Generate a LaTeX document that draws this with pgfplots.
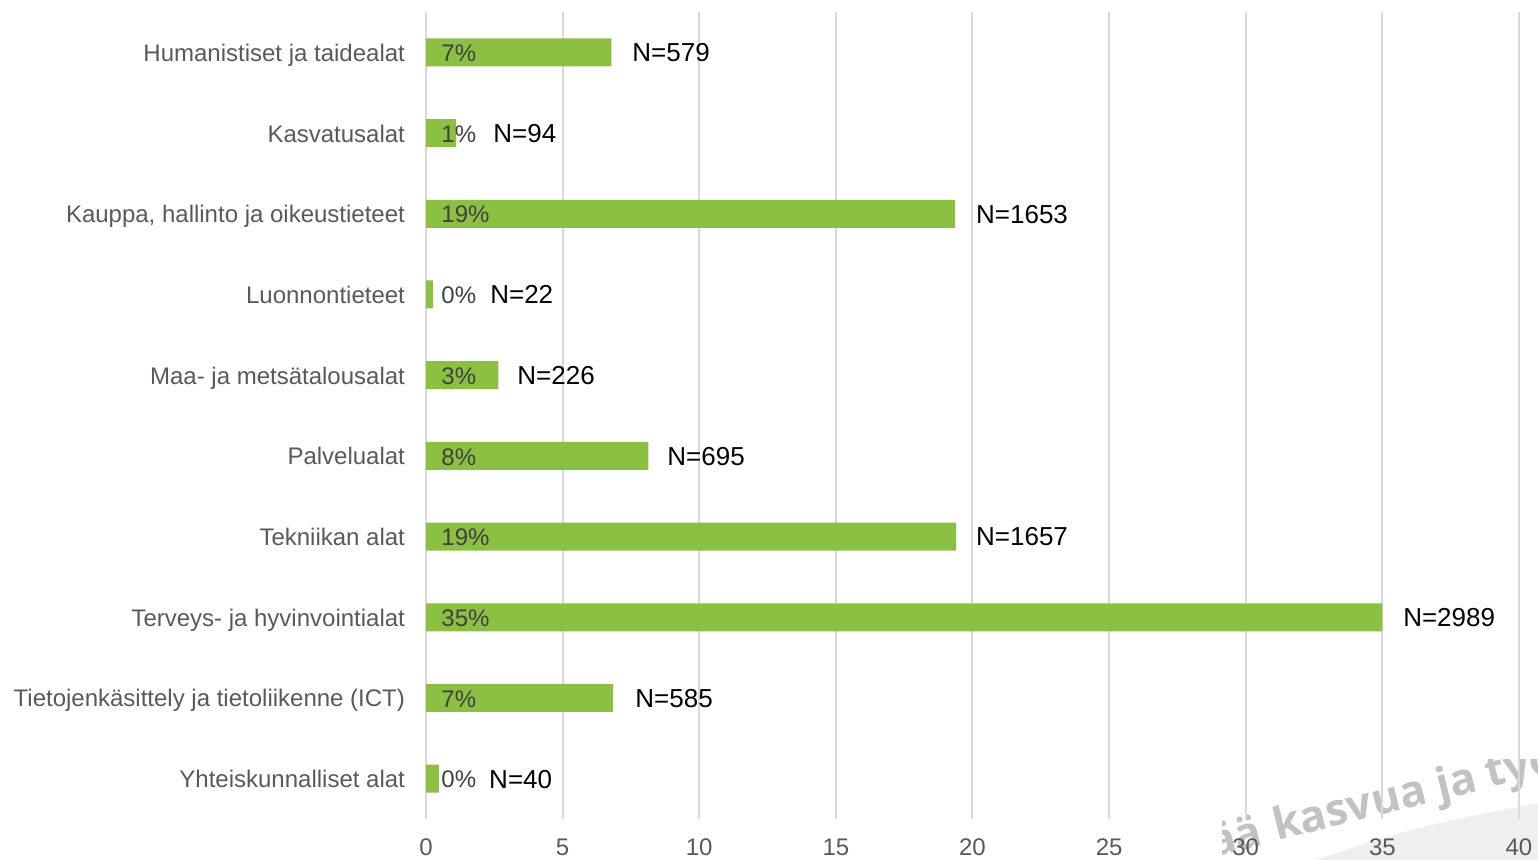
\documentclass[border=0pt]{standalone}
\usepackage{fontspec}
\setmainfont{Liberation Sans}
\newfontfamily\wmfont{Open Sans}
\usepackage{pgfplots}
\pgfplotsset{compat=1.18}
\usepackage{pgfplotstable}

\definecolor{bargreen}{HTML}{8BC043}
\definecolor{gridgray}{HTML}{D9D9D9}
\definecolor{labgray}{HTML}{595959}
\definecolor{pctgray}{HTML}{404040}
\definecolor{wmgray}{HTML}{C2C2C2}
\definecolor{wedgegray}{HTML}{EFEFEF}

% y: row from top, share: % of all (N total 8540)
\pgfplotstableread{
y share
0 6.78
1 1.10
2 19.36
3 0.26
4 2.65
5 8.14
6 19.40
7 35.00
8 6.85
9 0.47
}\shares

\begin{document}
\begin{tikzpicture}
    % background decoration (slide watermark)
    \fill[wedgegray] (445.5pt,-25pt) -- (445.5pt,-20pt) .. controls (499pt,-3pt) .. (556pt,8pt) -- (570pt,11pt) -- (570pt,-25pt) -- cycle;
    \begin{scope}
        \clip (398pt,-20pt) rectangle (556pt,30pt);
        \node[anchor=base east, rotate=14, inner sep=0pt, text=wmgray, font=\wmfont\bfseries\fontsize{22}{26}\selectfont] at (419.5pt,-13pt) {lisää};
        \node[anchor=base west, rotate=14, inner sep=0pt, text=wmgray, font=\wmfont\bfseries\fontsize{22}{26}\selectfont] at (425.5pt,-11pt) {kasvua ja työtä};
    \end{scope}

    \begin{axis}[
        at={(0,0)}, anchor=south west,
        scale only axis,
        width=546.5pt, height=403.5pt,
        xmin=0, xmax=40,
        ymin=-0.5, ymax=9.5,
        y dir=reverse,
        xtick={0,5,...,40},
        ytick={0,...,9},
        yticklabels={Humanistiset ja taidealat, Kasvatusalat, {Kauppa, hallinto ja oikeustieteet}, Luonnontieteet, Maa- ja metsätalousalat, Palvelualat, Tekniikan alat, Terveys- ja hyvinvointialat, Tietojenkäsittely ja tietoliikenne (ICT), Yhteiskunnalliset alat},
        xmajorgrids,
        grid style={gridgray, line width=1pt},
        axis line style={draw=none},
        major tick length=0pt,
        tick label style={font=\fontsize{12}{14}\selectfont, text=labgray},
        x tick label style={anchor=north, yshift=-6.5pt},
        y tick label style={anchor=base east, xshift=-7pt, yshift=-4.5pt},
        /pgf/number format/assume math mode=true,
        clip=false,
    ]
        \addplot[xbar, bar width=14pt, bar shift=0pt, fill=bargreen, draw=none] table[x=share, y=y] {\shares};

        \addplot[draw=none, mark=none, nodes near coords, point meta=explicit symbolic,
            nodes near coords style={anchor=base west, inner sep=0pt, yshift=-4.6pt, text=pctgray, font=\fontsize{12}{14}\selectfont}]
            coordinates {
            (0.55,0) [7\%]
            (0.55,1) [1\%]
            (0.55,2) [19\%]
            (0.55,3) [0\%]
            (0.55,4) [3\%]
            (0.55,5) [8\%]
            (0.55,6) [19\%]
            (0.55,7) [35\%]
            (0.55,8) [7\%]
            (0.55,9) [0\%]
        };

        \addplot[draw=none, mark=none, nodes near coords, point meta=explicit symbolic,
            nodes near coords style={anchor=base west, inner sep=0pt, yshift=-4.7pt, text=black, font=\fontsize{13}{15}\selectfont}]
            coordinates {
            (7.54,0) [N=579]
            (2.45,1) [N=94]
            (20.12,2) [N=1653]
            (2.34,3) [N=22]
            (3.33,4) [N=226]
            (8.82,5) [N=695]
            (20.12,6) [N=1657]
            (35.75,7) [N=2989]
            (7.65,8) [N=585]
            (2.30,9) [N=40]
        };
    \end{axis}
    \pgfresetboundingbox
    \useasboundingbox (-213pt,-20pt) rectangle (556pt,409.5pt);
\end{tikzpicture}
\end{document}
